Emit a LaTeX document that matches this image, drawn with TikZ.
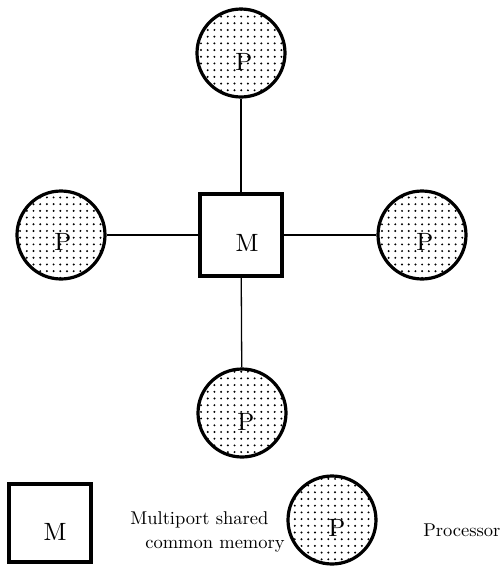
\documentclass[tikz,border=0pt]{standalone}
\usetikzlibrary{patterns}

% dotted fill used for the processors
\pgfdeclarepatternformonly{procdots}{\pgfpoint{-1.5pt}{-1.5pt}}{\pgfpoint{1.5pt}{1.5pt}}{\pgfpoint{6.7pt}{6.7pt}}{%
  \pgfpathcircle{\pgfpointorigin}{1.1pt}\pgfusepath{fill}}

\tikzset{
  proc/.style={circle, draw, line width=3.2pt, minimum size=88pt, inner sep=0pt, pattern=procdots},
  mem/.style={rectangle, draw, line width=3.2pt, minimum size=82pt, inner sep=0pt, fill=white},
  link/.style={line width=1.3pt},
  tag/.style={scale=2.5, inner sep=0pt},
  legtext/.style={scale=1.85, anchor=base west, inner sep=0pt}
}

\begin{document}
\begin{tikzpicture}[x=1pt, y=-1pt]
  \useasboundingbox (0,0) rectangle (501,566);

  % shared memory and the four processors
  \node[mem]  (m)  at (241,235) {};
  \node[proc] (pn) at (241,53)  {};
  \node[proc] (pw) at (61,235)  {};
  \node[proc] (pe) at (422,235) {};
  \node[proc] (ps) at (242,413) {};

  \node[tag] (mt)  at ([shift={(6,8)}]m.center)  {M};
  \node[tag] (pnt) at ([shift={(3,9)}]pn.center) {P};
  \node[tag] (pwt) at ([shift={(2,7)}]pw.center) {P};
  \node[tag] (pet) at ([shift={(3,7)}]pe.center) {P};
  \node[tag] (pst) at ([shift={(4,9)}]ps.center) {P};

  % ports
  \draw[link] (m) -- (pn);
  \draw[link] (m) -- (pw);
  \draw[link] (m) -- (pe);
  \draw[link] (m) -- (ps);

  % key
  \node[mem, minimum width=82pt, minimum height=78pt] (km) at (50,523) {};
  \node[tag] (kmt) at ([shift={(5,9)}]km.center) {M};
  \node[legtext] (kml1) at (130,524) {Multiport shared};
  \node[legtext] (kml2) at (145,548) {common memory};

  \node[proc] (kp) at (332,520) {};
  \node[tag] (kpt) at ([shift={(5,8)}]kp.center) {P};
  \node[legtext] (kpl) at (423,536) {Processor};
\end{tikzpicture}
\end{document}
